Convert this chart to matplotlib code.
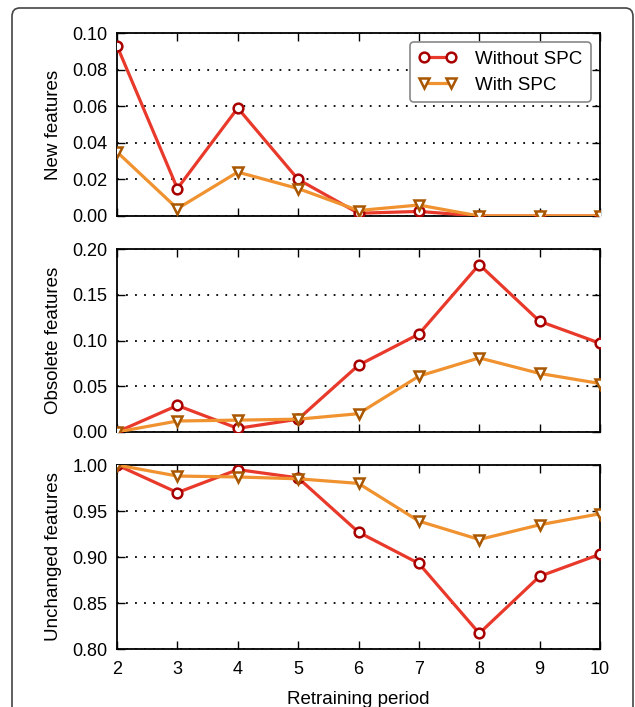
import matplotlib
matplotlib.use('Agg')
import matplotlib.pyplot as plt
from matplotlib.patches import FancyBboxPatch

plt.rcParams['font.family'] = ['Liberation Sans', 'DejaVu Sans']

periods = [2, 3, 4, 5, 6, 7, 8, 9, 10]

new_without = [0.093, 0.015, 0.059, 0.020, 0.0015, 0.0025, 0.0, 0.0, 0.0]
new_with = [0.035, 0.004, 0.024, 0.015, 0.003, 0.006, 0.0, 0.0, 0.0]

obsolete_without = [0.0, 0.029, 0.004, 0.014, 0.073, 0.107, 0.183, 0.121, 0.097]
obsolete_with = [0.0, 0.012, 0.013, 0.014, 0.020, 0.061, 0.081, 0.064, 0.053]

unchanged_without = [1.0, 0.970, 0.995, 0.986, 0.927, 0.893, 0.817, 0.879, 0.903]
unchanged_with = [1.0, 0.988, 0.987, 0.985, 0.980, 0.939, 0.919, 0.935, 0.947]

panels = [
    ('New features', new_without, new_with, (0.0, 0.10), [0.0, 0.02, 0.04, 0.06, 0.08, 0.10]),
    ('Obsolete features', obsolete_without, obsolete_with, (0.0, 0.20), [0.0, 0.05, 0.10, 0.15, 0.20]),
    ('Unchanged features', unchanged_without, unchanged_with, (0.80, 1.0), [0.80, 0.85, 0.90, 0.95, 1.00]),
]

fig = plt.figure(figsize=(6.35, 7.07), dpi=100)

# page frame around the figure
frame = FancyBboxPatch((12 / 635, -0.05), (633 - 12) / 635, (703 - 4) / 707 + 0.05,
                       boxstyle='round,pad=0,rounding_size=0.012',
                       transform=fig.transFigure, fill=False,
                       edgecolor='#444444', linewidth=1.2, clip_on=False)
fig.patches.append(frame)

left = 117 / 635
width = (600 - 117) / 635
tops = [33, 249, 465]
heights = [183, 183, 184]

red_line = '#e8392b'
red_edge = '#a80000'
orange_line = '#f0922f'
orange_edge = '#a85600'

for i, (label, without, with_spc, ylim, yticks) in enumerate(panels):
    top = tops[i]
    h = heights[i]
    ax = fig.add_axes([left, 1 - (top + h) / 707, width, h / 707])
    ax.plot(periods, without, color=red_line, linewidth=2.3, marker='o',
            markersize=7, markerfacecolor='white', markeredgecolor=red_edge,
            markeredgewidth=1.8, label='Without SPC', zorder=3)
    ax.plot(periods, with_spc, color=orange_line, linewidth=2.3, marker='v',
            markersize=7.5, markerfacecolor='white', markeredgecolor=orange_edge,
            markeredgewidth=1.8, label='With SPC', zorder=3)
    ax.set_xlim(2, 10)
    ax.set_ylim(*ylim)
    ax.set_xticks(periods)
    ax.set_yticks(yticks)
    ax.set_yticklabels(['%.2f' % v for v in yticks])
    ax.grid(axis='y', linestyle=(0, (1, 4)), color='black', linewidth=1.3)
    ax.tick_params(direction='in', top=True, right=True, length=6, width=1.0,
                   labelsize=13, colors='black', pad=7)
    ax.tick_params(axis='x', pad=9)
    for spine in ax.spines.values():
        spine.set_linewidth(1.3)
    ax.set_ylabel(label, fontsize=13.5, labelpad=7)
    if i < 2:
        ax.tick_params(labelbottom=False)
    else:
        ax.set_xlabel('Retraining period', fontsize=13.5, labelpad=9)
    if i == 0:
        leg = ax.legend(loc='upper right', fontsize=13.5, frameon=True, fancybox=True,
                        numpoints=2, borderaxespad=0.5, handlelength=2.0,
                        handletextpad=1.0, borderpad=0.45, labelspacing=0.45)
        leg.get_frame().set_edgecolor('#888888')
        leg.get_frame().set_linewidth(1.2)
        leg.get_frame().set_alpha(1.0)

fig.savefig('out.png', dpi=100)
